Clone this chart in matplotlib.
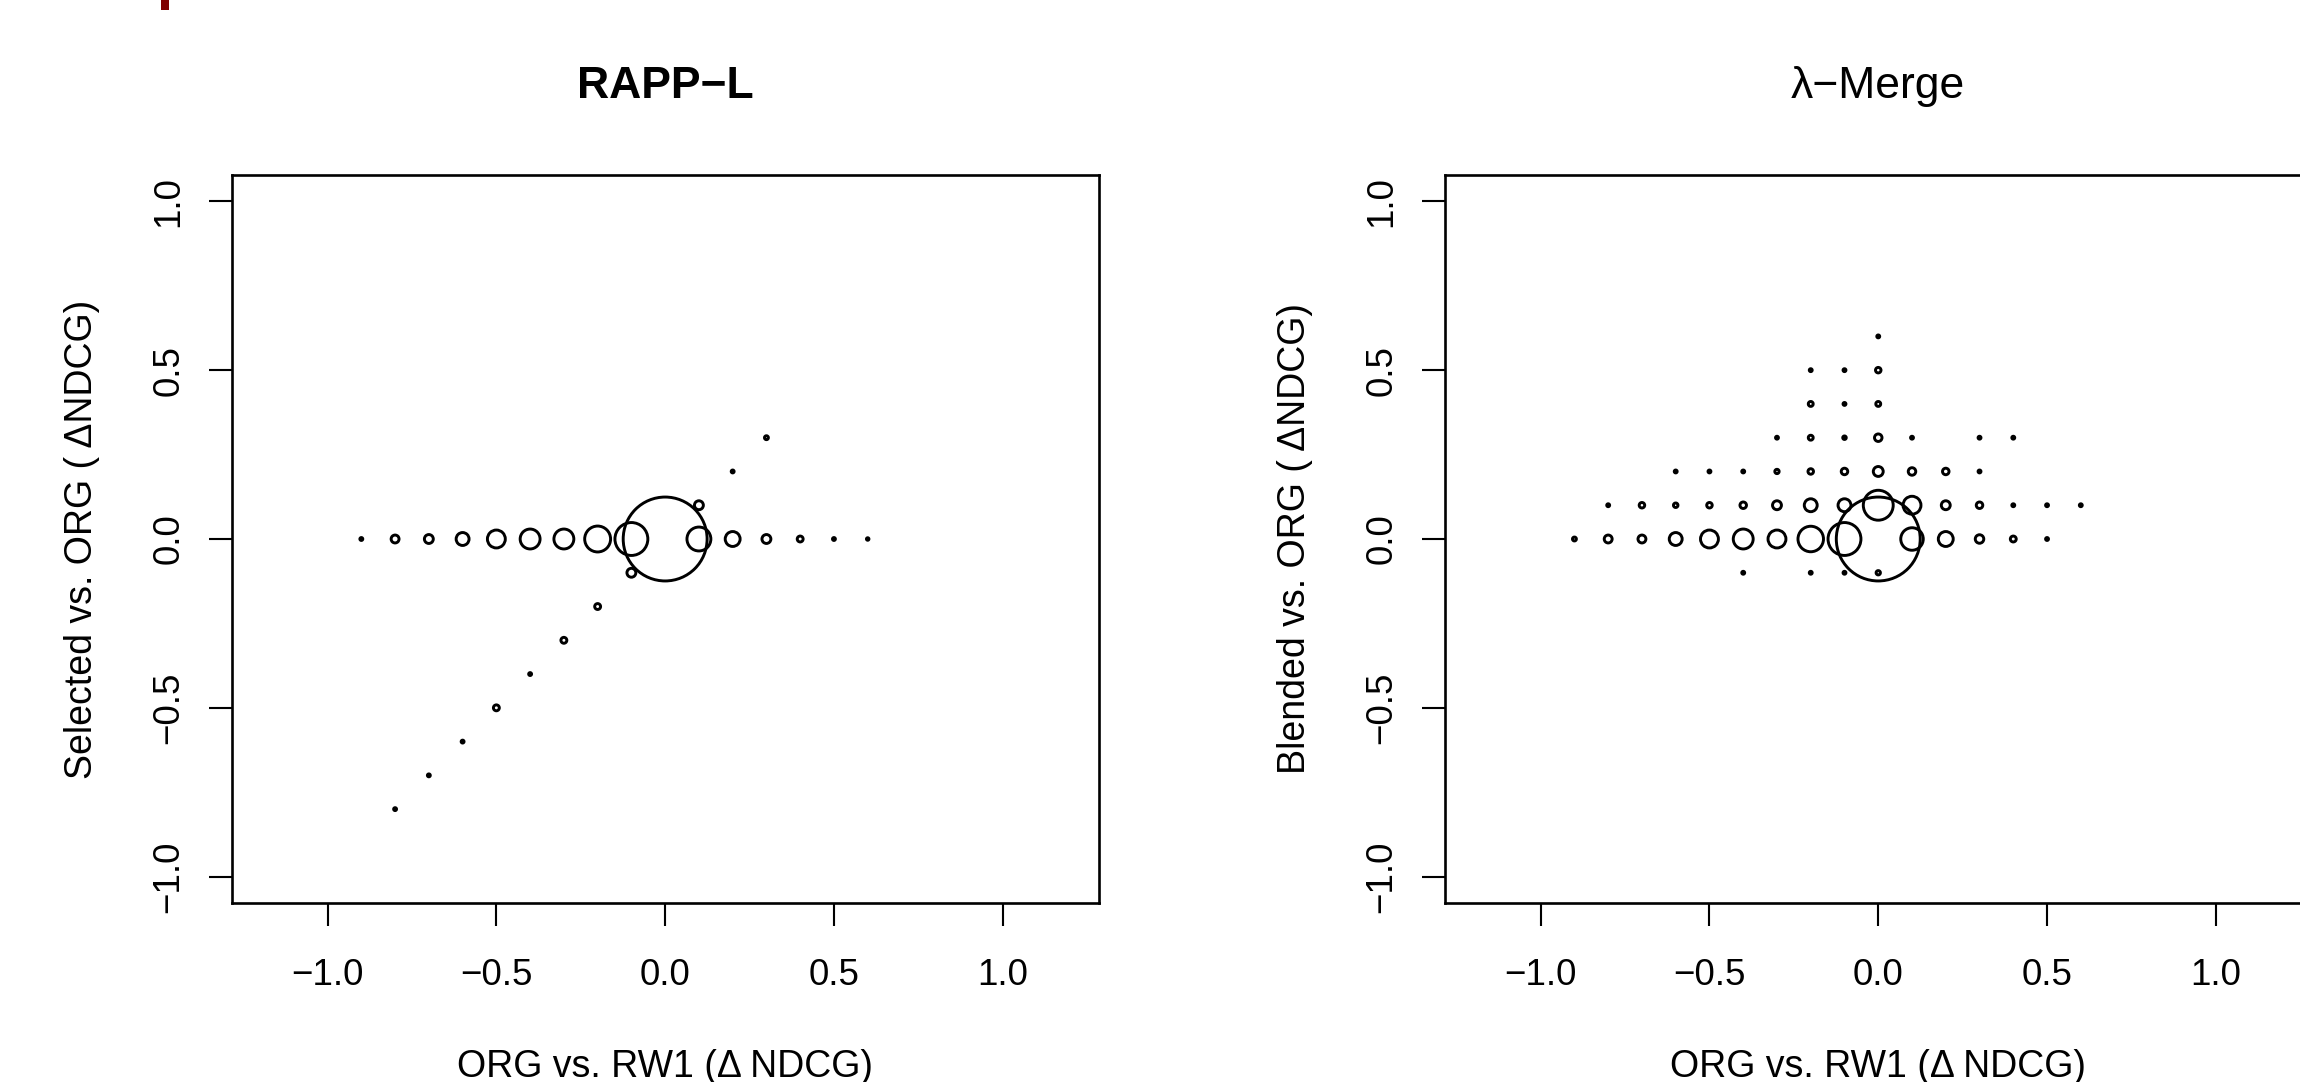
import matplotlib
matplotlib.use("Agg")
import matplotlib.pyplot as plt
from matplotlib.patches import Rectangle
import numpy as np

plt.rcParams['font.family'] = ['Liberation Sans', 'DejaVu Sans']

# ---------------- data ----------------
# RAPP-L : x = ORG vs RW1, y = Selected vs ORG, size = circle radius (px)
rapp_x = [-0.9, -0.8, -0.7, -0.6, -0.5, -0.4, -0.3, -0.2, -0.1, 0.0, 0.1, 0.2, 0.3, 0.4, 0.5, 0.6,
          0.1, -0.1, 0.2, 0.3, -0.2, -0.3, -0.4, -0.5, -0.6, -0.7, -0.8]
rapp_y = [0.0] * 16 + [0.1, -0.1, 0.2, 0.3, -0.2, -0.3, -0.4, -0.5, -0.6, -0.7, -0.8]
rapp_size = [2.5, 5, 5.5, 7.5, 10, 11, 11, 14, 17.5, 43, 13, 8.5, 5.5, 4, 2.5, 2.3,
             5.5, 5.5, 2.5, 3, 4, 4, 2.5, 4, 2.5, 2.5, 2.5]

# lambda-Merge : rows of y values
lm_y06_x = [0.0]
lm_y06_s = [2.5]
lm_y05_x = [-0.2, -0.1, 0.0]
lm_y05_s = [2.5, 2.5, 3.8]
lm_y04_x = [-0.2, -0.1, 0.0]
lm_y04_s = [3.5, 2.5, 3.5]
lm_y03_x = [-0.3, -0.2, -0.1, 0.0, 0.1, 0.3, 0.4]
lm_y03_s = [2.5, 3.5, 2.8, 4.8, 2.5, 2.5, 2.5]
lm_y02_x = [-0.6, -0.5, -0.4, -0.3, -0.2, -0.1, 0.0, 0.1, 0.2, 0.3]
lm_y02_s = [2.5, 2.5, 2.5, 3.2, 3.8, 4.3, 6, 4.8, 4.3, 2.5]
lm_y01_x = [-0.8, -0.7, -0.6, -0.5, -0.4, -0.3, -0.2, -0.1, 0.0, 0.1, 0.2, 0.3, 0.4, 0.5, 0.6]
lm_y01_s = [2.5, 3.8, 3.3, 3.8, 4.3, 5.5, 7.5, 7.5, 16, 10, 5.5, 4.3, 2.5, 2.5, 2.5]
lm_y00_x = [-0.9, -0.8, -0.7, -0.6, -0.5, -0.4, -0.3, -0.2, -0.1, 0.0, 0.1, 0.2, 0.3, 0.4, 0.5]
lm_y00_s = [3, 5, 5, 7.5, 10, 11, 10, 13.8, 17.5, 43, 12.3, 8.5, 5.3, 4, 2.5]
lm_ym01_x = [-0.4, -0.2, -0.1, 0.0]
lm_ym01_s = [2.5, 2.5, 2.5, 3.2]

lm_rows = [(0.6, lm_y06_x, lm_y06_s), (0.5, lm_y05_x, lm_y05_s), (0.4, lm_y04_x, lm_y04_s),
           (0.3, lm_y03_x, lm_y03_s), (0.2, lm_y02_x, lm_y02_s), (0.1, lm_y01_x, lm_y01_s),
           (0.0, lm_y00_x, lm_y00_s), (-0.1, lm_ym01_x, lm_ym01_s)]

ticks = [-1.0, -0.5, 0.0, 0.5, 1.0]
tick_labels = ["\u22121.0", "\u22120.5", "0.0", "0.5", "1.0"]

titles = ["RAPP\u2212L", "\u03bb\u2212Merge"]
xlabel = "ORG vs. RW1 (\u0394 NDCG)"
ylabels = ["Selected vs. ORG ( \u0394NDCG)", "Blended vs. ORG ( \u0394NDCG)"]

# ---------------- figure ----------------
W, H, DPI = 2300, 1082, 100
fig = plt.figure(figsize=(W / DPI, H / DPI), dpi=DPI)
LW = 1.9        # axes lines
MLW = 2.1       # circle outlines
PX = 72.0 / DPI  # points per pixel


def sizes_to_s(sz):
    d = np.maximum(2 * np.asarray(sz, float) * PX - MLW * 0.72, 0.3)
    return d ** 2


def style(ax, title, bold, ylab):
    ax.set_xlim(-1.284, 1.284)
    ax.set_ylim(-1.078, 1.078)
    ax.set_xticks(ticks)
    ax.set_xticklabels(tick_labels)
    ax.set_yticks(ticks)
    ax.set_yticklabels(tick_labels)
    for sp in ax.spines.values():
        sp.set_linewidth(LW)
    ax.tick_params(axis='both', length=16.5, width=LW * 0.8, labelsize=26.5, direction='out')
    ax.tick_params(axis='x', pad=23)
    ax.tick_params(axis='y', pad=16, labelrotation=90)
    for lab in ax.get_yticklabels():
        lab.set_va('center')
    ax.set_xlabel(xlabel, fontsize=27)
    ax.xaxis.label.set_va('baseline')
    ax.xaxis.set_label_coords(0.5, -0.239)
    ax.set_ylabel(ylab, fontsize=27)
    ax.yaxis.label.set_va('baseline')
    ax.yaxis.set_label_coords(-0.161, 0.5)
    ax.text(0.5, 1.1058, title, transform=ax.transAxes, ha='center', va='baseline',
            fontsize=32, fontweight='bold' if bold else 'normal')


ax1 = fig.add_axes([231.7 / W, 1 - 903 / H, 866.9 / W, 728 / H])
ax1.scatter(rapp_x, rapp_y, s=sizes_to_s(rapp_size), facecolors='none',
            edgecolors='black', linewidths=MLW, zorder=3)
style(ax1, titles[0], True, ylabels[0])

ax2 = fig.add_axes([1444.8 / W, 1 - 903 / H, 866.9 / W, 728 / H])
for yv, xs, ss in lm_rows:
    ax2.scatter(xs, [yv] * len(xs), s=sizes_to_s(ss), facecolors='none',
                edgecolors='black', linewidths=MLW, zorder=3)
style(ax2, titles[1], False, ylabels[1])

# small dark red mark at top-left edge
fig.patches.append(Rectangle((161 / W, 1 - 10 / H), 8 / W, 10 / H, transform=fig.transFigure,
                             facecolor='#7f0000', edgecolor='none'))

fig.savefig("out.png", dpi=DPI)
